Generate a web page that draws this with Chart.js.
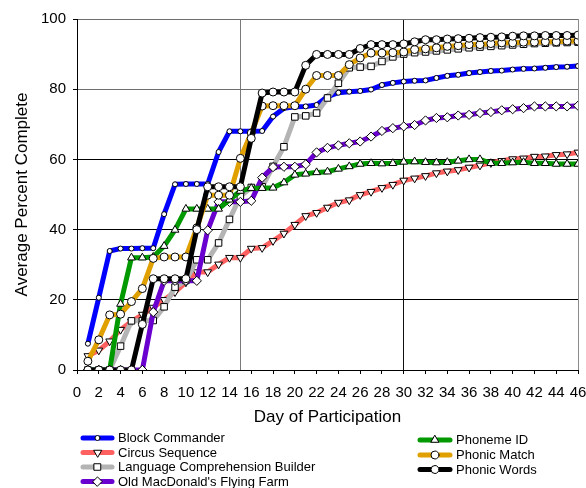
<!DOCTYPE html>
<html>
<head>
<meta charset="utf-8">
<script src="https://cdn.jsdelivr.net/npm/chart.js@4.4.1/dist/chart.umd.min.js"></script>
<style>
  html, body { margin: 0; padding: 0; background: #fff; }
  #wrap { width: 586px; height: 488px; }
</style>
</head>
<body>
<div id="wrap"><canvas id="chart" width="586" height="488"></canvas></div>
<script>
// Day of participation (x) for every series
const days = [1,2,3,4,5,6,7,8,9,10,11,12,13,14,15,16,17,18,19,20,21,22,23,24,25,26,27,28,29,30,31,32,33,34,35,36,37,38,39,40,41,42,43,44,45,46];

const xTicks = [0,2,4,6,8,10,12,14,16,18,20,22,24,26,28,30,32,34,36,38,40,42,44,46];
const yTicks = [0,20,40,60,80,100];

const seriesNames = [
  'Block Commander',
  'Circus Sequence',
  'Language Comprehension Builder',
  "Old MacDonald's Flying Farm",
  'Phoneme ID',
  'Phonic Match',
  'Phonic Words'
];

// Average percent complete per day
const blockCommander = [7.5,20.6,33.9,34.6,34.6,34.7,34.7,44.4,52.9,53.0,53.0,53.0,62.1,68.0,68.0,68.0,68.1,72.2,74.6,75.0,75.1,75.5,77.9,79.0,79.3,79.5,79.9,81.2,81.8,82.2,82.4,82.5,83.2,83.8,84.1,84.6,84.9,85.2,85.3,85.6,85.8,85.9,86.1,86.3,86.4,86.6];
const circusSequence = [4.0,5.6,8.2,11.5,13.8,15.8,17.8,20.0,22.2,25.0,27.9,27.9,30.1,32.0,32.0,34.6,34.8,36.8,38.9,41.4,43.9,44.8,46.3,47.7,48.4,49.9,50.8,51.9,52.8,54.0,54.6,55.3,56.1,56.6,57.0,57.7,58.3,59.0,59.6,60.1,60.3,60.8,60.9,61.3,61.5,62.0];
const languageBuilder = [0,0,0,6.8,14.0,14.0,14.1,18.0,23.6,25.5,31.4,31.4,36.2,42.9,49.5,52.0,52.2,58.0,63.6,72.1,72.4,73.2,77.5,81.7,86.1,86.3,86.5,87.9,89.2,90.0,90.4,90.6,90.9,91.2,91.5,91.8,92.0,92.2,92.4,92.6,92.8,93.0,93.1,93.2,93.3,93.4];
const oldMacDonald = [0,0,0,0,0,0,16.5,25.4,25.4,25.4,25.4,39.8,47.9,47.9,47.9,48.2,54.8,57.8,57.9,57.9,58.6,62.0,63.3,64.0,64.6,65.1,66.5,68.1,68.9,69.4,69.8,71.1,71.8,72.0,72.5,72.7,73.2,73.5,74.0,74.3,74.6,75.1,75.1,75.1,75.1,75.3];
const phonemeID = [0,0,0,18.8,32.0,32.0,32.2,35.3,39.9,45.9,45.9,45.9,45.9,48.5,51.0,51.8,51.8,51.9,53.4,55.6,55.9,56.3,56.5,57.3,58.0,58.7,58.9,58.8,58.9,59.3,59.4,59.2,59.1,59.2,59.6,60.0,60.0,58.9,58.9,59.1,59.2,58.9,58.9,58.7,58.7,58.7];
const phonicMatch = [2.5,8.6,15.7,15.9,19.5,23.2,31.8,32.2,32.2,32.2,40.5,49.8,49.8,49.8,60.3,67.5,75.2,75.3,75.3,75.3,80.0,83.9,83.9,83.9,87.0,88.9,90.3,90.3,90.4,90.6,91.3,91.5,91.8,92.2,92.4,92.7,92.7,93.0,93.2,93.2,93.4,93.4,93.5,93.5,93.7,93.7];
const phonicWords = [0,0,0,0,0,13.0,26.0,26.0,26.0,26.0,40.0,52.2,52.2,52.2,52.2,66.0,78.9,79.2,79.2,79.2,86.8,89.9,89.9,89.9,89.9,91.6,92.7,92.7,92.7,92.9,93.5,94.1,94.1,94.3,94.4,94.5,94.7,94.8,94.9,95.1,95.2,95.2,95.3,95.3,95.3,95.4];

const seriesValues = [blockCommander, circusSequence, languageBuilder, oldMacDonald, phonemeID, phonicMatch, phonicWords];

// Line colour and marker for each series
const lineColors = ['#0000FF', '#FF6060', '#B4B4B4', '#6A00CF', '#009A00', '#E0A000', '#000000'];
const markers = [
  { style: 'circle',   radius: 2.5, rotation: 0 },
  { style: 'triangle', radius: 4.5, rotation: 180 },
  { style: 'rect',     radius: 4.6, rotation: 0 },
  { style: 'rectRot',  radius: 4.6, rotation: 0 },
  { style: 'triangle', radius: 4.5, rotation: 0 },
  { style: 'circle',   radius: 4,   rotation: 0 },
  { style: 'circle',   radius: 4,   rotation: 0 }
];

const FONT = '"Liberation Sans", Arial, Helvetica, sans-serif';

const datasets = seriesNames.map((name, i) => ({
  label: name,
  data: days.map((d, k) => ({ x: d, y: seriesValues[i][k] })),
  borderColor: lineColors[i],
  backgroundColor: lineColors[i],
  borderWidth: 5,
  borderJoinStyle: 'round',
  borderCapStyle: 'round',
  tension: 0,
  fill: false,
  pointStyle: markers[i].style,
  pointRadius: markers[i].radius,
  pointRotation: markers[i].rotation,
  pointBackgroundColor: '#FFFFFF',
  pointBorderColor: '#000000',
  pointBorderWidth: 1,
  pointHoverRadius: markers[i].radius,
  order: seriesNames.length - i
}));

// Two-column key below the axis title
const keyPlugin = {
  id: 'columnKey',
  afterDraw(chart, args, opts) {
    const ctx = chart.ctx;
    chart.data.datasets.forEach((ds, i) => {
      const slot = opts.slots[i];
      const len = slot.len;
      ctx.save();
      ctx.strokeStyle = ds.borderColor;
      ctx.lineWidth = ds.borderWidth;
      ctx.lineCap = 'round';
      ctx.beginPath();
      ctx.moveTo(slot.x, slot.y);
      ctx.lineTo(slot.x + len, slot.y);
      ctx.stroke();
      ctx.fillStyle = '#FFFFFF';
      ctx.strokeStyle = '#000000';
      ctx.lineWidth = 1;
      Chart.helpers.drawPoint(ctx, {
        pointStyle: ds.pointStyle,
        rotation: ds.pointRotation,
        radius: ds.pointRadius,
        borderWidth: 1
      }, slot.x + len / 2, slot.y);
      ctx.fillStyle = '#000000';
      ctx.font = '13px ' + FONT;
      ctx.textBaseline = 'middle';
      ctx.textAlign = 'left';
      ctx.fillText(ds.label, slot.x + len + 6, slot.y + 0.5);
      ctx.restore();
    });
  }
};

new Chart(document.getElementById('chart'), {
  type: 'line',
  data: { datasets },
  plugins: [keyPlugin],
  options: {
    responsive: false,
    animation: false,
    devicePixelRatio: 1,
    events: [],
    layout: { padding: { top: 19, right: 8, left: 0, bottom: 0 } },
    plugins: {
      legend: { display: false },
      tooltip: { enabled: false },
      columnKey: {
        slots: [
          { x: 83, y: 438, len: 29 },
          { x: 83, y: 452.5, len: 29 },
          { x: 83, y: 467, len: 29 },
          { x: 83, y: 481.5, len: 29 },
          { x: 420, y: 440, len: 30 },
          { x: 420, y: 455, len: 30 },
          { x: 420, y: 469.5, len: 30 }
        ]
      }
    },
    scales: {
      x: {
        type: 'linear',
        min: 0,
        max: 46,
        afterFit(scale) {
          scale.height = 118;
          scale.paddingLeft = 0;
          scale.paddingRight = 0;
        },
        afterBuildTicks(scale) {
          const vals = xTicks.concat([15]).sort((a, b) => a - b);
          scale.ticks = vals.map(v => ({ value: v }));
        },
        ticks: {
          autoSkip: false,
          maxRotation: 0,
          minRotation: 0,
          padding: 10,
          color: '#000',
          font: { family: FONT, size: 15 },
          callback: v => (xTicks.includes(v) ? String(v) : '')
        },
        grid: {
          tickLength: 4,
          lineWidth: 1,
          color: c => {
            const v = c.tick && c.tick.value;
            if (v === 15) return '#7a7a7a';
            if (v === 30) return '#111';
            if (v === 46) return '#8a8a8a';
            return 'rgba(0,0,0,0)';
          },
          tickColor: c => (c.tick && xTicks.includes(c.tick.value) ? '#000' : 'rgba(0,0,0,0)')
        },
        border: { color: '#000', width: 1 },
        title: {
          display: true,
          text: 'Day of Participation',
          color: '#000',
          font: { family: FONT, size: 17 },
          padding: { top: 0, bottom: 60 }
        }
      },
      y: {
        min: 0,
        max: 100,
        afterFit(scale) {
          scale.width = 77;
          scale.paddingTop = 0;
          scale.paddingBottom = 0;
        },
        afterBuildTicks(scale) {
          scale.ticks = yTicks.map(v => ({ value: v }));
        },
        ticks: {
          padding: 7,
          color: '#000',
          font: { family: FONT, size: 15 }
        },
        grid: {
          tickLength: 4,
          lineWidth: 1,
          color: c => {
            const v = c.tick && c.tick.value;
            return (v === 80 || v === 100) ? '#6e6e6e' : '#000';
          },
          tickColor: '#000'
        },
        border: { color: '#000', width: 1 },
        title: {
          display: true,
          text: 'Average Percent Complete',
          color: '#000',
          font: { family: FONT, size: 17 },
          padding: { top: 12, bottom: 0 }
        }
      }
    }
  }
});
</script>
</body>
</html>
